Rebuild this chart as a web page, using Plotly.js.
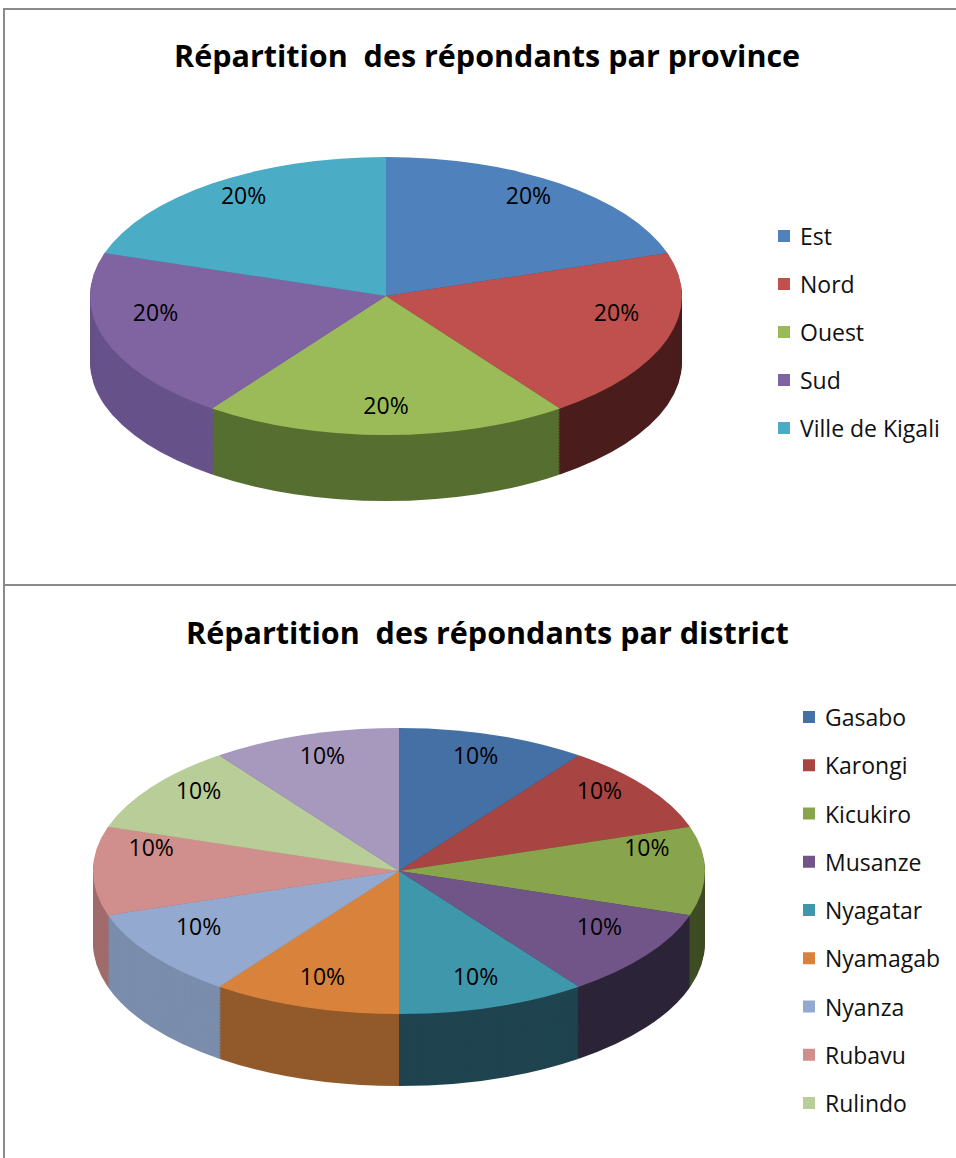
<!DOCTYPE html>
<html>
<head>
<meta charset="utf-8">
<script src="https://cdn.plot.ly/plotly-3.0.1.min.js"></script>
<style>
html,body{margin:0;padding:0;background:#fff;}
#chart{width:956px;height:1158px;}
</style>
</head>
<body>
<div id="chart"></div>
<script>
// ---- data ----
const provinceTitle = 'Répartition\u00a0\u00a0des répondants par province';
const provinceLabels = ['Est', 'Nord', 'Ouest', 'Sud', 'Ville de Kigali'];
const provinceValues = [20, 20, 20, 20, 20];
const provinceColors = ['#4F81BD', '#C0504D', '#9BBB59', '#8064A2', '#4BACC6'];
const provinceSideColors = ['#34577f', '#4b1d1d', '#566f31', '#67528a', '#2f7183'];

const districtTitle = 'Répartition\u00a0\u00a0des répondants par district';
const districtLabels = ['Gasabo', 'Karongi', 'Kicukiro', 'Musanze', 'Nyagatar', 'Nyamagab', 'Nyanza', 'Rubavu', 'Rulindo', 'Rwamagana'];
const districtValues = [10, 10, 10, 10, 10, 10, 10, 10, 10, 10];
const districtColors = ['#4470A5', '#A84543', '#88A44C', '#715589', '#3F97AC', '#D9823B', '#93A9CF', '#D08F8D', '#B8CD97', '#A798BE'];
const districtSideColors = ['#2c4a6e', '#6a2b2a', '#3f4d24', '#2c2438', '#1f4450', '#925a2b', '#7a8dac', '#a06c6c', '#8a9c6e', '#6e6480'];

// ---- layout helpers ----
const W = 956, H = 1158;
const px = x => x / W;
const py = y => 1 - y / H;
const FONT = 'Open Sans, Liberation Sans, sans-serif';

const pies = [
  {labels: provinceLabels, values: provinceValues, colors: provinceColors, side: provinceSideColors,
   X: 386, Y: 296, a: 296, b: 139, depth: 66, textSpread: 1.3, textLift: 26, domainY: [0.5, 1],
   legend: {sq: 778, tx: 798, y0: 236, step: 48}, title: provinceTitle, titleY: 55},
  {labels: districtLabels, values: districtValues, colors: districtColors, side: districtSideColors,
   X: 399, Y: 871, a: 306, b: 143, depth: 72, textSpread: 1.06, textLift: 24, domainY: [0, 0.5],
   legend: {sq: 803, tx: 823, y0: 717, step: 48.25}, title: districtTitle, titleY: 632}
];

const data = [];
const specs = [];
pies.forEach(p => {
  // side (depth) layers, farthest first
  for (let d = p.depth; d > 0; d -= 1.5) {
    data.push({
      type: 'pie', labels: p.labels, values: p.values, sort: false, direction: 'clockwise', rotation: 0,
      marker: {colors: p.side, line: {width: 0}}, textinfo: 'none', hoverinfo: 'skip', showlegend: false,
      domain: {x: [0, 1], y: p.domainY}
    });
    specs.push({X: p.X, Y: p.Y + d, a: p.a, b: p.b, spread: 1, lift: 0});
  }
  // top face
  data.push({
    type: 'pie', labels: p.labels, values: p.values, sort: false, direction: 'clockwise', rotation: 0,
    marker: {colors: p.colors, line: {width: 0}}, textinfo: 'percent', textposition: 'inside',
    insidetextorientation: 'horizontal',
    textfont: {family: FONT, size: 23, color: '#000'}, showlegend: false,
    domain: {x: [0, 1], y: p.domainY}
  });
  specs.push({X: p.X, Y: p.Y, a: p.a, b: p.b, spread: p.textSpread, lift: p.textLift});
});

const shapes = [
  {type: 'line', xref: 'paper', yref: 'paper', x0: px(3), x1: 1, y0: py(9), y1: py(9), line: {color: '#8a8a8a', width: 2}},
  {type: 'line', xref: 'paper', yref: 'paper', x0: px(4), x1: px(4), y0: py(8), y1: 0, line: {color: '#8a8a8a', width: 2}},
  {type: 'line', xref: 'paper', yref: 'paper', x0: px(3), x1: 1, y0: py(585), y1: py(585), line: {color: '#8a8a8a', width: 2}}
];
const annotations = [];
pies.forEach(p => {
  annotations.push({xref: 'paper', yref: 'paper', x: px(487), y: py(p.titleY), xanchor: 'center', yanchor: 'middle',
    showarrow: false, text: '<b>' + p.title + '</b>', font: {family: FONT, size: 30.5, color: '#000'}});
  p.labels.forEach((lab, i) => {
    const y = p.legend.y0 + i * p.legend.step;
    if (y + 12 > H) return; // entries that do not fit are not shown
    shapes.push({type: 'rect', xref: 'paper', yref: 'paper', x0: px(p.legend.sq), x1: px(p.legend.sq + 12),
      y0: py(y - 6), y1: py(y + 6), fillcolor: p.colors[i], line: {width: 0}});
    annotations.push({xref: 'paper', yref: 'paper', x: px(p.legend.tx), y: py(y), xanchor: 'left', yanchor: 'middle',
      showarrow: false, text: lab, font: {family: FONT, size: 23, color: '#111'}});
  });
});

const layout = {
  width: W, height: H, margin: {l: 0, r: 0, t: 0, b: 0},
  paper_bgcolor: '#fff', showlegend: false, shapes, annotations,
  font: {family: FONT}
};

const gd = document.getElementById('chart');
Plotly.newPlot(gd, data, layout, {staticPlot: true, displayModeBar: false}).then(squash);

// flatten each circular pie into the tilted ellipse of the reference
function squash() {
  const svg = gd.querySelector('.main-svg');
  const sr = svg.getBoundingClientRect();
  const groups = gd.querySelectorAll('.pielayer .trace');
  gd.calcdata.forEach((cd, i) => {
    const s = specs[i], c = cd[0];
    const sx = s.a / c.r, sy = s.b / c.r;
    const ox = s.X - c.cx * sx, oy = s.Y - c.cy * sy;
    const g = groups[i];
    if (!g) return;
    g.querySelectorAll('path.surface').forEach(p =>
      p.setAttribute('transform', `matrix(${sx},0,0,${sy},${ox},${oy})`));
    g.querySelectorAll('g.slicetext').forEach(t => {
      const r = t.getBoundingClientRect();
      const tx = r.left + r.width / 2 - sr.left, ty = r.top + r.height / 2 - sr.top;
      const v = Math.min(1, Math.abs((ty - c.cy) / c.r) * s.spread);
      const nx = s.X + (tx - c.cx) * sx * s.spread;
      const ny = s.Y + (ty - c.cy) * sy * s.spread - s.lift * (1 - v);
      t.setAttribute('transform', `translate(${nx - tx},${ny - ty})`);
    });
  });
}
</script>
</body>
</html>
